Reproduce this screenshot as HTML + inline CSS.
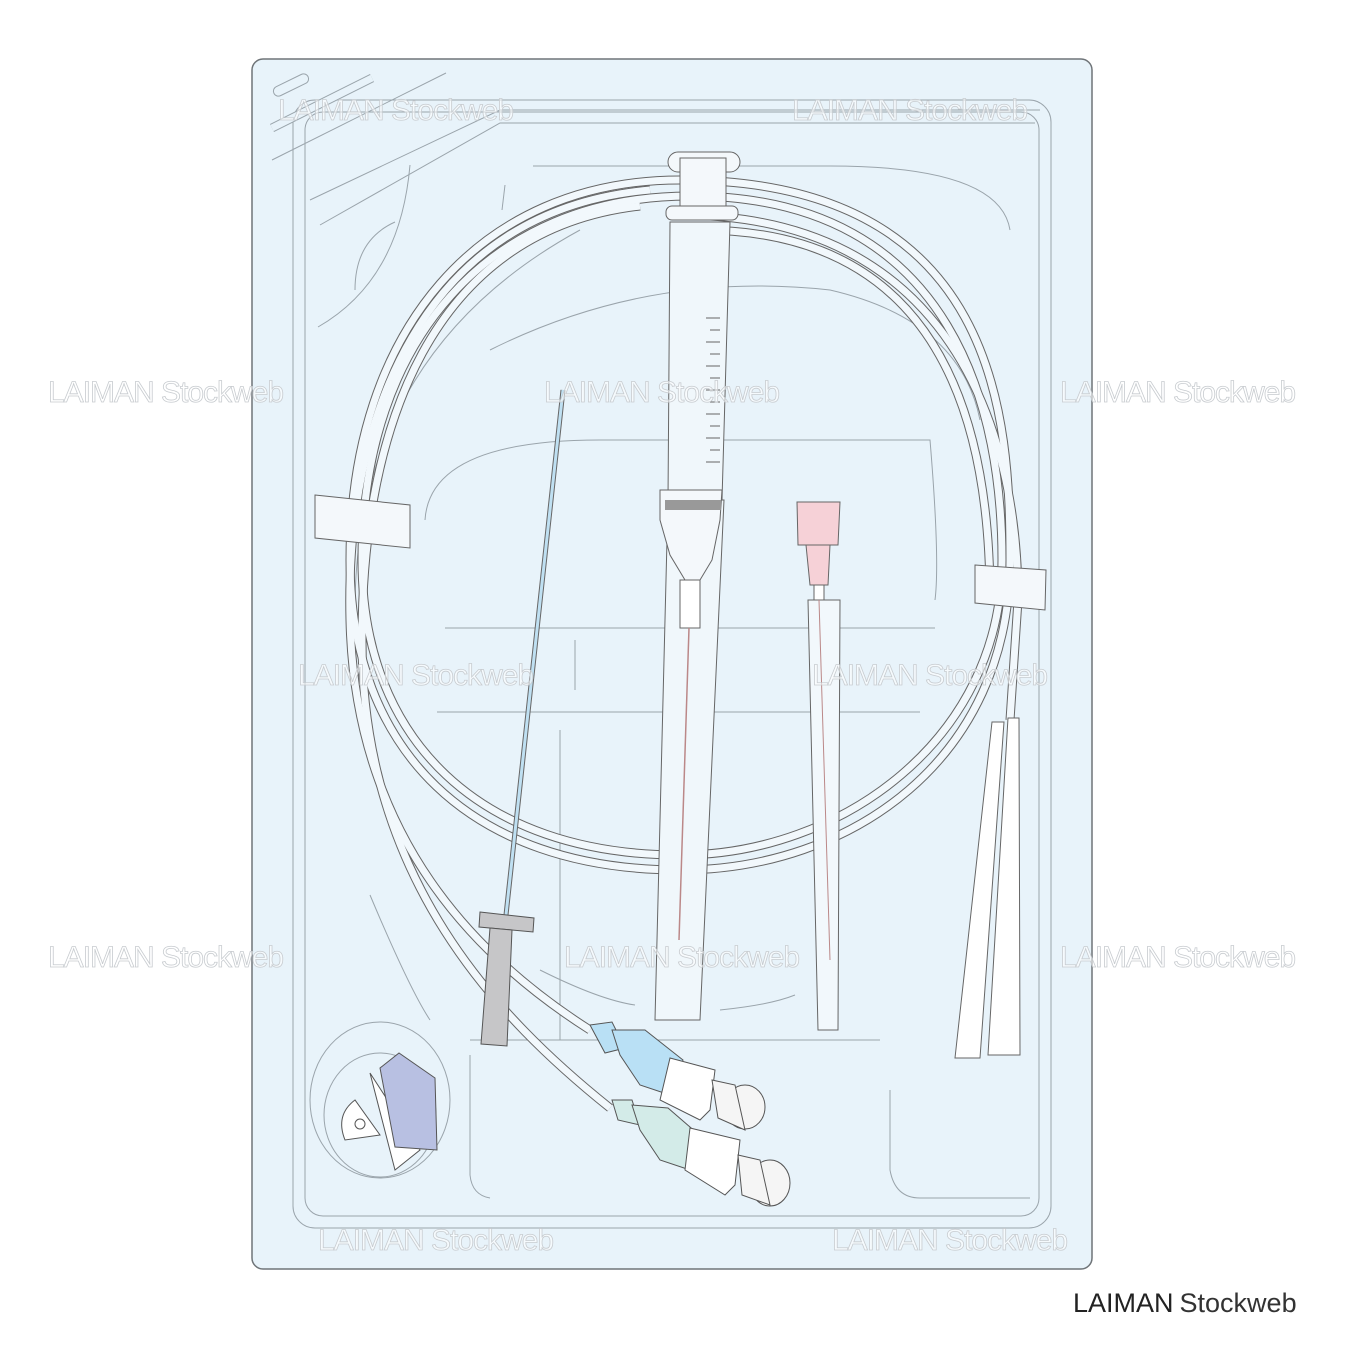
<!DOCTYPE html>
<html><head><meta charset="utf-8"><style>
html,body{margin:0;padding:0;background:#fff;}
svg{display:block}
.wm{font-family:"Liberation Sans",sans-serif;font-size:30px;fill:#ffffff;fill-opacity:0.55;stroke:#c8ccd0;stroke-width:0.8;letter-spacing:-1px}
</style></head><body>
<svg width="1350" height="1350" viewBox="0 0 1350 1350" xmlns="http://www.w3.org/2000/svg">
<rect width="1350" height="1350" fill="#fff"/>
<rect x="252" y="59" width="840" height="1210" rx="11" fill="#e8f3fa" stroke="#6f7478" stroke-width="1.5"/>
<g fill="none" stroke="#9aa4ab" stroke-width="1">
<rect x="293" y="100" width="758" height="1128" rx="22"/>
<rect x="305" y="112" width="734" height="1104" rx="18"/>
<line x1="272" y1="160" x2="446" y2="73"/>
<rect x="272" y="80" width="38" height="10" rx="5" transform="rotate(-26 291 85)"/>
<path d="M272 128 L372 78" stroke-width="9" stroke="#9aa4ab"/>
<path d="M272 128 L372 78" stroke-width="7" stroke="#e8f3fa"/>
<path d="M310 200 L500 110 L1040 110"/>
<path d="M320 225 L500 123 L1035 123"/>
<path d="M533 166 L830 166 Q1000 166 1010 230"/>
<path d="M410 165 Q400 280 318 327"/>
<path d="M395 222 Q355 240 355 290"/>
<path d="M505 185 L502 210"/>
<path d="M355 600 Q360 350 580 230"/>
<path d="M490 350 Q650 270 830 290 Q960 320 980 420"/>
<path d="M425 520 Q430 440 600 440 L930 440 Q940 560 935 600"/>
<path d="M445 628 L935 628 M437 712 L920 712 M575 640 L575 690 M560 730 L560 1040"/>
<path d="M470 1040 L880 1040 M540 970 Q600 1000 635 1005 M720 1010 Q770 1005 795 995"/>
<path d="M470 1055 L470 1175 Q472 1195 490 1198"/>
<path d="M890 1090 L890 1170 Q895 1198 920 1198 L1030 1198"/>
<path d="M370 895 Q410 990 430 1020"/>
</g>
<ellipse cx="380" cy="1100" rx="70" ry="78" fill="none" stroke="#9aa4ab"/>
<ellipse cx="380" cy="1115" rx="56" ry="62" fill="none" stroke="#9aa4ab"/>
<path d="M355 1100 Q335 1115 345 1140 L380 1135 Z" fill="#fff" stroke="#555"/>
<circle cx="360" cy="1124" r="5" fill="#fff" stroke="#555"/>
<path d="M370 1073 L395 1170 L420 1150 Z" fill="#fff" stroke="#555"/>
<path d="M380 1068 L399 1053 L435 1078 L437 1150 L395 1147 Z" fill="#b8c0e2" stroke="#555"/>
<g fill="none">
<g stroke="#666" stroke-width="9"><path d="M680 180 C1000 180 1010 420 1010 560 C1010 760 850 870 680 870 C470 870 350 750 350 560 C350 330 480 180 680 180"/>
<path d="M690 196 C960 196 1002 420 1002 560 C1002 740 840 855 680 855 C480 855 362 740 362 560 C362 340 490 196 690 196"/>
<path d="M680 215 C950 215 1018 430 1018 600 L1010 720"/>
<path d="M700 230 C940 230 990 420 990 600"/>
<path d="M650 190 C420 210 345 420 350 620 C355 840 480 960 590 1030"/>
<path d="M640 206 C430 230 362 430 362 640 C362 880 500 1020 610 1108"/></g>
<g stroke="#f2f8fc" stroke-width="7"><path d="M680 180 C1000 180 1010 420 1010 560 C1010 760 850 870 680 870 C470 870 350 750 350 560 C350 330 480 180 680 180"/>
<path d="M690 196 C960 196 1002 420 1002 560 C1002 740 840 855 680 855 C480 855 362 740 362 560 C362 340 490 196 690 196"/>
<path d="M680 215 C950 215 1018 430 1018 600 L1010 720"/>
<path d="M700 230 C940 230 990 420 990 600"/>
<path d="M650 190 C420 210 345 420 350 620 C355 840 480 960 590 1030"/>
<path d="M640 206 C430 230 362 430 362 640 C362 880 500 1020 610 1108"/></g>
</g>
<path d="M315 495 L410 505 L410 548 L315 538 Z" fill="#f4f8fb" stroke="#666"/>
<path d="M975 565 L1046 570 L1045 610 L975 603 Z" fill="#f4f8fb" stroke="#666"/>
<path d="M992 722 L1004 722 L980 1058 L955 1058 Z" fill="#fff" stroke="#666"/>
<path d="M1008 718 L1019 718 L1020 1055 L988 1055 Z" fill="#fff" stroke="#666"/>
<path d="M668 500 L724 500 L700 1020 L655 1020 Z" fill="#f0f7fb" stroke="#666"/>
<rect x="668" y="152" width="72" height="20" rx="10" fill="#f4f8fb" stroke="#666"/>
<rect x="680" y="158" width="46" height="60" fill="#f4f8fb" stroke="#666"/>
<rect x="666" y="206" width="72" height="14" rx="6" fill="#f4f8fb" stroke="#666"/>
<path d="M670 222 L730 222 L722 500 L668 500 Z" fill="#f0f7fb" stroke="#666"/>
<g stroke="#666"><path d="M706 318h14M710 330h10M706 342h14M710 354h10M706 366h14M710 378h10M706 390h14M710 402h10M706 414h14M710 426h10M706 438h14M710 450h10M706 462h14"/></g>
<path d="M660 490 L722 490 L720 520 L712 560 L700 580 L685 580 L670 555 L660 520 Z" fill="#f4f8fb" stroke="#666"/>
<rect x="665" y="500" width="56" height="10" fill="#999"/>
<rect x="680" y="580" width="20" height="48" fill="#fff" stroke="#666"/>
<line x1="689" y1="628" x2="679" y2="940" stroke="#b88" stroke-width="1.5"/>
<line x1="563" y1="390" x2="506" y2="915" stroke="#666" stroke-width="5"/>
<line x1="563" y1="390" x2="506" y2="915" stroke="#bfe0f2" stroke-width="3"/>
<path d="M480 912 L534 918 L533 932 L479 927 Z" fill="#c6c6c8" stroke="#555"/>
<path d="M490 928 L512 930 L507 1046 L481 1044 Z" fill="#c6c6c8" stroke="#555"/>
<path d="M797 502 L840 502 L838 545 L798 545 Z" fill="#f6d1d7" stroke="#666"/>
<path d="M806 545 L830 545 L828 585 L810 585 Z" fill="#f6d1d7" stroke="#666"/>
<rect x="814" y="585" width="10" height="16" fill="#fff" stroke="#666"/>
<path d="M808 600 L840 600 L838 1030 L818 1030 Z" fill="#f2f8fc" stroke="#666"/>
<line x1="819" y1="600" x2="830" y2="960" stroke="#b88"/>
<g stroke="#555" stroke-width="1">
<path d="M590 1025 L612 1022 L625 1048 L605 1053 Z" fill="#b9e0f5"/>
<path d="M612 1030 L645 1030 L683 1060 L670 1095 L640 1085 L620 1055 Z" fill="#b9e0f5"/>
<path d="M670 1058 L715 1070 L710 1110 L700 1120 L660 1100 Z" fill="#fff"/>
<ellipse cx="745" cy="1107" rx="20" ry="22" fill="#f5f5f5"/>
<path d="M712 1080 L735 1085 L745 1130 L718 1118 Z" fill="#f5f5f5"/>
<path d="M612 1100 L632 1100 L640 1125 L618 1120 Z" fill="#d3ebe8"/>
<path d="M632 1105 L668 1108 L705 1140 L690 1170 L660 1160 L640 1130 Z" fill="#d3ebe8"/>
<path d="M690 1128 L740 1140 L735 1185 L725 1195 L685 1170 Z" fill="#fff"/>
<ellipse cx="770" cy="1183" rx="20" ry="23" fill="#f5f5f5"/>
<path d="M738 1155 L760 1160 L770 1205 L742 1195 Z" fill="#f5f5f5"/>
</g>
<g class="wm">
<text x="278" y="120">LAIMAN Stockweb</text>
<text x="792" y="120">LAIMAN Stockweb</text>
<text x="48" y="402">LAIMAN Stockweb</text>
<text x="544" y="402">LAIMAN Stockweb</text>
<text x="1060" y="402">LAIMAN Stockweb</text>
<text x="298" y="685">LAIMAN Stockweb</text>
<text x="812" y="685">LAIMAN Stockweb</text>
<text x="48" y="967">LAIMAN Stockweb</text>
<text x="564" y="967">LAIMAN Stockweb</text>
<text x="1060" y="967">LAIMAN Stockweb</text>
<text x="318" y="1250">LAIMAN Stockweb</text>
<text x="832" y="1250">LAIMAN Stockweb</text>
</g>
<text x="1073" y="1312" font-family="Liberation Sans,sans-serif" font-size="27" fill="#222">LAIMAN<tspan dx="6" fill="#333">Stockweb</tspan></text>
</svg>
</body></html>
